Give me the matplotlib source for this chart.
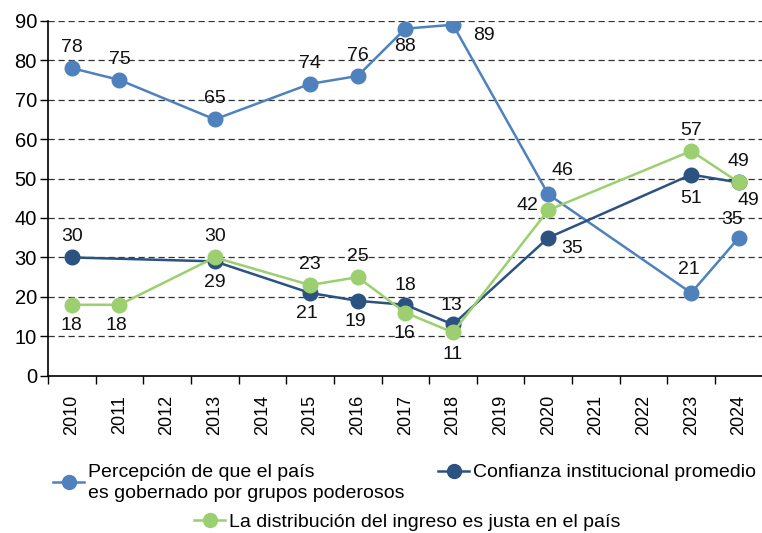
import numpy as np
import matplotlib.pyplot as plt
from matplotlib.lines import Line2D

plt.rcParams['font.family'] = ['Liberation Sans', 'DejaVu Sans']

years = ['2010', '2011', '2012', '2013', '2014', '2015', '2016', '2017',
         '2018', '2019', '2020', '2021', '2022', '2023', '2024']

# values by year (None = no survey)
percepcion = [78, 75, None, 65, None, 74, 76, 88, 89, None, 46, None, None, 21, 35]
confianza = [30, None, None, 29, None, 21, 19, 18, 13, None, 35, None, None, 51, 49]
distribucion = [18, 18, None, 30, None, 23, 25, 16, 11, None, 42, None, None, 57, 49]

labels = ['Percepción de que el país\nes gobernado por grupos poderosos',
          'Confianza institucional promedio',
          'La distribución del ingreso es justa en el país']
colors = ['#4F81BD', '#2B5280', '#9BCF6F']

# label placement per point: (dx, dy) in points
off_perc = [(0, 15), (0, 15), None, (0, 15), None, (0, 15), (0, 15), (0, -13),
            (22, -8), None, (10, 17), None, None, (-2, 17), (-5, 13)]
off_conf = [(0, 15), None, None, (0, -15), None, (-2, -15), (-2, -15), (0, 14),
            (-1, 14), None, (17, -8), None, None, (0, -17), (7, -13)]
off_dist = [(0, -15), (-2, -15), None, (0, 15), None, (0, 15), (0, 15), (-1, -15),
            (0, -16), None, (-15, 3), None, None, (0, 15), (0, 15)]

fig = plt.figure(figsize=(7.62, 5.33), dpi=100)
ax = fig.add_axes([48 / 762, 0.295, 1 - 48 / 762 + 0.004, 0.666])

x = np.arange(len(years))
for vals, col, offs in [(percepcion, colors[0], off_perc),
                        (confianza, colors[1], off_conf),
                        (distribucion, colors[2], off_dist)]:
    xs = [i for i, v in enumerate(vals) if v is not None]
    ys = [v for v in vals if v is not None]
    ax.plot(xs, ys, color=col, lw=1.8, marker='o', ms=10.5, zorder=3)
    for i in xs:
        dx, dy = offs[i]
        ax.annotate(str(vals[i]), (i, vals[i]), xytext=(dx, dy),
                    textcoords='offset points', ha='center', va='center',
                    fontsize=14, color='#111111', zorder=5)

ax.set_xlim(-0.5, 14.55)
ax.set_ylim(0, 90)
ax.set_yticks(range(0, 91, 10))
ax.tick_params(axis='y', labelsize=14.5, length=6, width=1, direction='out', pad=2)
ax.set_xticks(x)
ax.set_xticklabels(years, rotation=90, fontsize=13)
ax.tick_params(axis='x', which='major', length=0, pad=14)
ax.set_xticks(np.arange(-0.5, 15, 1), minor=True)
ax.tick_params(axis='x', which='minor', length=6, width=1, direction='out')
for v in range(10, 91, 10):
    ax.axhline(v, color='#333333', lw=0.9, ls=(0, (5, 3)), zorder=1)
for s in ['top', 'right']:
    ax.spines[s].set_visible(False)
ax.spines['left'].set_linewidth(1.2)
ax.spines['bottom'].set_linewidth(1.2)

handles = [Line2D([], [], color=c, lw=1.8, marker='o', ms=10) for c in colors]
leg_kw = dict(frameon=False, fontsize=14, handlelength=1.6, handletextpad=0.2,
              borderaxespad=0, borderpad=0, loc='upper left')
leg1 = fig.legend(handles[:1], labels[:1], bbox_to_anchor=(0.07, 0.13), **leg_kw)
leg1.get_texts()[0].set_linespacing(1.3)
fig.legend(handles[1:2], labels[1:2], bbox_to_anchor=(0.575, 0.13), **leg_kw)
fig.legend(handles[2:], labels[2:], bbox_to_anchor=(0.255, 0.037), **leg_kw)

fig.savefig('out.png', dpi=100)
